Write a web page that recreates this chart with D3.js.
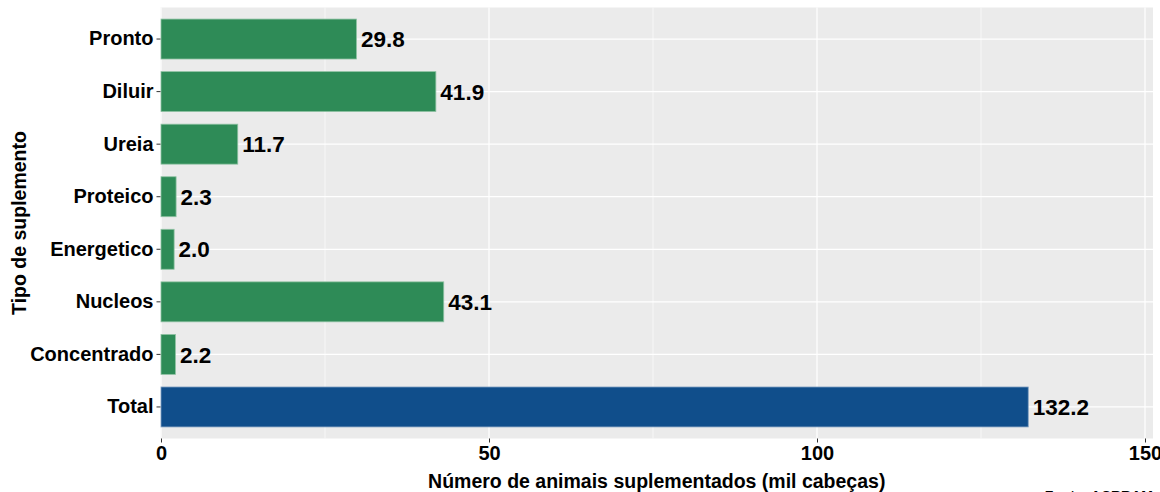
<!DOCTYPE html>
<html>
<head>
<meta charset="utf-8">
<script src="https://cdn.jsdelivr.net/npm/d3@7"></script>
<style>
  body { margin: 0; background: #fff; }
  text { font-family: "Liberation Sans", Arial, sans-serif; font-weight: bold; }
</style>
</head>
<body>
<div id="chart"></div>
<script>
// chart data
var categories = ["Pronto", "Diluir", "Ureia", "Proteico", "Energetico", "Nucleos", "Concentrado", "Total"];
var values = [29.8, 41.9, 11.7, 2.3, 2.0, 43.1, 2.2, 132.2];
var xTicks = [0, 50, 100, 150];
var xMinor = [25, 75, 125];

var svgWidth = 1160;
var svgHeight = 492;
var margin = { top: 7.5, right: 7, bottom: 53.5, left: 160.5 };
var width = svgWidth - margin.left - margin.right;
var height = svgHeight - margin.top - margin.bottom;

var svg = d3.select("#chart")
  .append("svg")
  .attr("width", svgWidth)
  .attr("height", svgHeight);

var chartGroup = svg.append("g")
  .attr("transform", `translate(${margin.left}, ${margin.top})`);

// scales
var xScale = d3.scaleLinear()
  .domain([0, 150])
  .range([0.5, 984.5]);

// bars take 0.76 of a step, 0.6 step between panel edge and first/last centre
var yScale = d3.scaleBand()
  .domain(categories)
  .range([0, height])
  .paddingInner(0.24)
  .paddingOuter(0.22);

// panel background
chartGroup.append("rect")
  .attr("width", width)
  .attr("height", height)
  .attr("fill", "#EBEBEB");

// minor grid
chartGroup.selectAll(".minor")
  .data(xMinor)
  .enter()
  .append("line")
  .attr("x1", d => xScale(d))
  .attr("x2", d => xScale(d))
  .attr("y1", 0)
  .attr("y2", height)
  .attr("stroke", "#fff")
  .attr("stroke-width", 0.6);

// major grid
chartGroup.selectAll(".major")
  .data(xTicks)
  .enter()
  .append("line")
  .attr("x1", d => xScale(d))
  .attr("x2", d => xScale(d))
  .attr("y1", 0)
  .attr("y2", height)
  .attr("stroke", "#fff")
  .attr("stroke-width", 1.2);

chartGroup.selectAll(".hgrid")
  .data(categories)
  .enter()
  .append("line")
  .attr("x1", 0)
  .attr("x2", width)
  .attr("y1", d => yScale(d) + yScale.bandwidth() / 2)
  .attr("y2", d => yScale(d) + yScale.bandwidth() / 2)
  .attr("stroke", "#fff")
  .attr("stroke-width", 1.2);

// bars
chartGroup.selectAll(".bar")
  .data(values)
  .enter()
  .append("rect")
  .attr("x", xScale(0))
  .attr("y", (d, i) => yScale(categories[i]))
  .attr("width", d => xScale(d) - xScale(0))
  .attr("height", yScale.bandwidth())
  .attr("fill", (d, i) => categories[i] === "Total" ? "#104E8B" : "#2E8B57")
  .attr("stroke", (d, i) => categories[i] === "Total" ? "#7f9fc0" : "#8fc2a3")
  .attr("stroke-width", 0.8);

// value labels
chartGroup.selectAll(".val")
  .data(values)
  .enter()
  .append("text")
  .attr("x", d => xScale(d) + 4.5)
  .attr("y", (d, i) => yScale(categories[i]) + yScale.bandwidth() / 2)
  .attr("dy", "0.36em")
  .attr("font-size", "22.5px")
  .attr("fill", "#000")
  .text(d => d.toFixed(1));

// axes
var bottomAxis = d3.axisBottom(xScale)
  .tickValues(xTicks)
  .tickSize(4)
  .tickPadding(3);
var leftAxis = d3.axisLeft(yScale)
  .tickSize(4)
  .tickPadding(3);

var xAxis = chartGroup.append("g")
  .attr("transform", `translate(0, ${height})`)
  .call(bottomAxis);
xAxis.select(".domain").remove();
xAxis.selectAll("line").attr("stroke", "#333");
xAxis.selectAll("text")
  .attr("font-size", "20px")
  .attr("fill", "#000")
  .attr("font-family", "Liberation Sans, Arial, sans-serif");

var yAxis = chartGroup.append("g")
  .call(leftAxis);
yAxis.select(".domain").remove();
yAxis.selectAll("line").attr("stroke", "#333");
yAxis.selectAll("text")
  .attr("font-size", "20px")
  .attr("fill", "#000")
  .attr("font-family", "Liberation Sans, Arial, sans-serif");

// axis titles
svg.append("text")
  .attr("x", margin.left + width / 2)
  .attr("y", 488)
  .attr("text-anchor", "middle")
  .attr("font-size", "19.5px")
  .attr("fill", "#000")
  .text("Número de animais suplementados (mil cabeças)");

svg.append("text")
  .attr("transform", "rotate(-90)")
  .attr("x", -(margin.top + height / 2))
  .attr("y", 26)
  .attr("text-anchor", "middle")
  .attr("font-size", "19.5px")
  .attr("fill", "#000")
  .text("Tipo de suplemento");

// caption, mostly cut off at the bottom as in the source
svg.append("text")
  .attr("x", 1153)
  .attr("y", 501)
  .attr("text-anchor", "end")
  .attr("font-size", "14px")
  .attr("fill", "#000")
  .text("Fonte: ACRRAM");
</script>
</body>
</html>
